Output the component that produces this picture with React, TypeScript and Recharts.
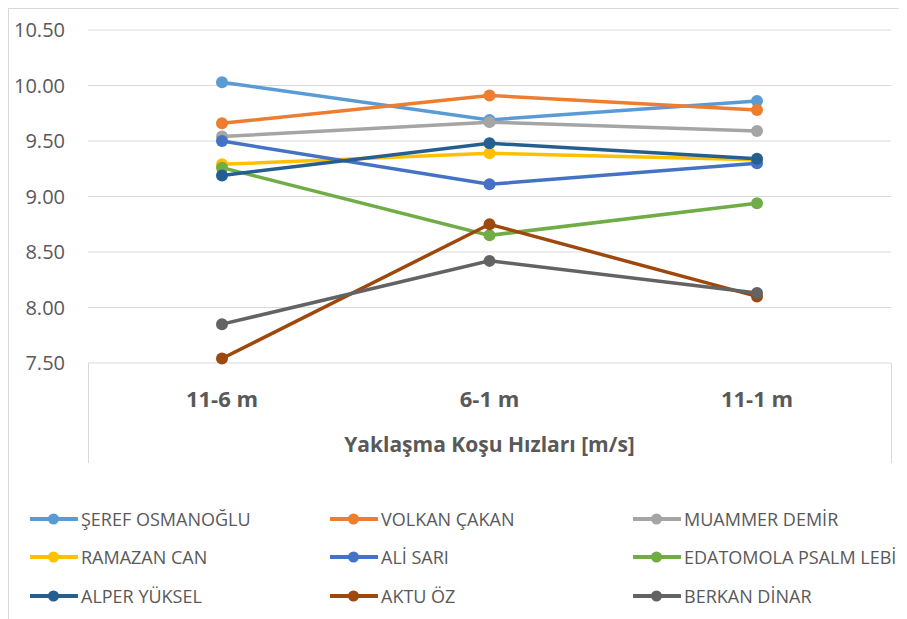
import { LineChart, Line, XAxis, YAxis, CartesianGrid } from 'recharts';

const categories = ['11-6 m', '6-1 m', '11-1 m'];

const seref = [10.03, 9.69, 9.86];
const volkan = [9.66, 9.91, 9.78];
const muammer = [9.54, 9.67, 9.59];
const ramazan = [9.29, 9.39, 9.33];
const ali = [9.5, 9.11, 9.3];
const edatomola = [9.26, 8.65, 8.94];
const alper = [9.19, 9.48, 9.34];
const aktu = [7.54, 8.75, 8.1];
const berkan = [7.85, 8.42, 8.13];

const yTicks = [7.5, 8, 8.5, 9, 9.5, 10, 10.5];

const series = [
  { key: 'seref', name: 'ŞEREF OSMANOĞLU', color: '#5B9BD5', values: seref },
  { key: 'volkan', name: 'VOLKAN ÇAKAN', color: '#ED7D31', values: volkan },
  { key: 'muammer', name: 'MUAMMER DEMİR', color: '#A5A5A5', values: muammer },
  { key: 'ramazan', name: 'RAMAZAN CAN', color: '#FFC000', values: ramazan },
  { key: 'ali', name: 'ALİ SARI', color: '#4472C4', values: ali },
  { key: 'edatomola', name: 'EDATOMOLA PSALM LEBİ', color: '#70AD47', values: edatomola },
  { key: 'alper', name: 'ALPER YÜKSEL', color: '#255E91', values: alper },
  { key: 'aktu', name: 'AKTU ÖZ', color: '#9E480E', values: aktu },
  { key: 'berkan', name: 'BERKAN DİNAR', color: '#636363', values: berkan },
];

const data = categories.map((cat, i) => {
  const row: Record<string, any> = { cat };
  series.forEach(s => { row[s.key] = s.values[i]; });
  return row;
});

const font = '"Open Sans", "Liberation Sans", sans-serif';
const textColor = '#595959';

const legendCols = [21, 321, 624];
const legendRows = [510, 548, 587];

export default function App() {
  return (
    <div style={{
      position: 'relative', width: 899, height: 611, boxSizing: 'border-box',
      borderTop: '1px solid #d9d9d9', borderLeft: '1px solid #d9d9d9',
      overflow: 'hidden', background: 'white', fontFamily: font,
    }}>
      <LineChart width={898} height={610} data={data} margin={{ top: 21, right: 16, left: 0, bottom: 156 }}>
        <CartesianGrid vertical={false} stroke="#d9d9d9" />
        <XAxis
          dataKey="cat"
          axisLine={false}
          tickLine={false}
          height={100}
          padding={{ left: 134, right: 134 }}
          tickMargin={22}
          tick={{ fontSize: 22, fontWeight: 700, fill: textColor, fontFamily: font }}
          label={{ value: 'Yaklaşma Koşu Hızları [m/s]', position: 'insideBottom', offset: 11, fontSize: 21, fontWeight: 700, fill: textColor, fontFamily: font }}
        />
        <YAxis
          domain={[7.5, 10.5]}
          ticks={yTicks}
          width={79}
          axisLine={false}
          tickLine={false}
          tickMargin={17}
          tickFormatter={(v: number) => v.toFixed(2)}
          tick={{ fontSize: 20, fill: textColor, fontFamily: font }}
        />
        {series.map(s => (
          <Line
            key={s.key}
            dataKey={s.key}
            name={s.name}
            stroke={s.color}
            strokeWidth={3.5}
            dot={{ r: 6, fill: s.color, stroke: s.color, strokeWidth: 0 }}
            activeDot={false}
            isAnimationActive={false}
          />
        ))}
      </LineChart>

      {/* category box lines */}
      <div style={{ position: 'absolute', left: 79, top: 354, width: 1, height: 100, background: '#d9d9d9' }} />
      <div style={{ position: 'absolute', left: 882, top: 354, width: 1, height: 100, background: '#d9d9d9' }} />

      {series.map((s, i) => (
        <div key={s.key} style={{
          position: 'absolute', left: legendCols[i % 3], top: legendRows[Math.floor(i / 3)] - 12,
          height: 24, display: 'flex', alignItems: 'center', whiteSpace: 'nowrap',
        }}>
          <svg width={48} height={14}>
            <line x1={0} y1={7} x2={47} y2={7} stroke={s.color} strokeWidth={4} strokeLinecap="round" />
            <circle cx={23.5} cy={7} r={5.5} fill={s.color} />
          </svg>
          <span style={{ marginLeft: 3, fontSize: 18, color: textColor, fontFamily: font }}>{s.name}</span>
        </div>
      ))}
    </div>
  );
}
